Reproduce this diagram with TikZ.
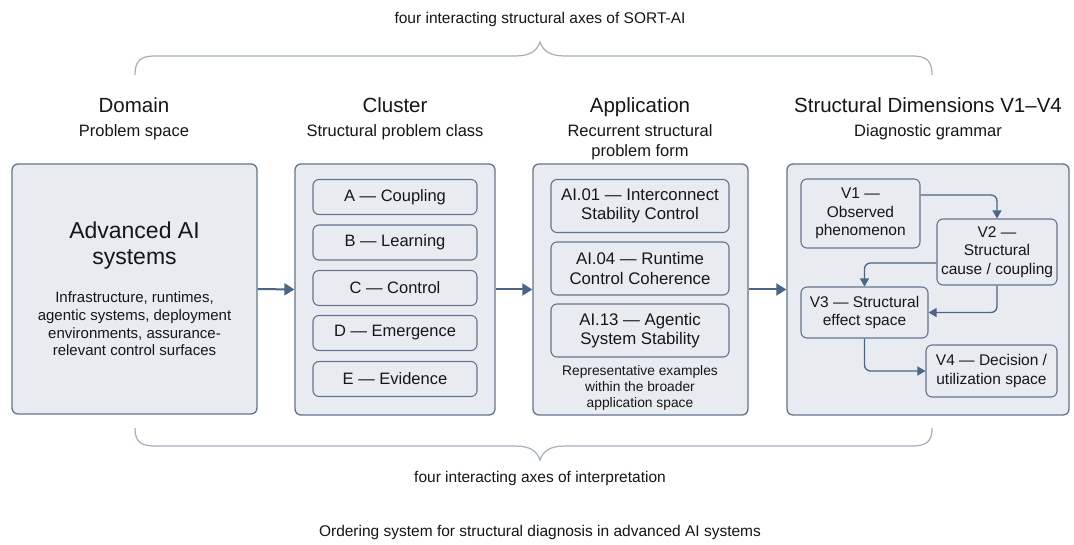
\documentclass[tikz,border=0pt]{standalone}
\usepackage{fontspec}
\setmainfont{Liberation Sans}
\usetikzlibrary{arrows.meta,calc}
\definecolor{boxfill}{HTML}{E8ECF1}
\definecolor{boxline}{HTML}{62758C}
\definecolor{arrcol}{HTML}{4B6584}
\definecolor{bracecol}{HTML}{A3AFBD}
\definecolor{txt}{HTML}{161616}
\tikzset{
  outer/.style={draw=boxline, fill=boxfill, line width=1.3pt, rounded corners=6pt, inner sep=0pt},
  inner/.style={draw=boxline, fill=boxfill, line width=1.1pt, rounded corners=6pt, inner sep=0pt, align=center, text=txt},
  head/.style={text=txt, font=\fontsize{20.5}{24}\selectfont, inner sep=0pt, anchor=base},
  sub/.style={text=txt, font=\fontsize{16.5}{20}\selectfont, inner sep=0pt, align=center, anchor=base},
  lbl/.style={text=txt, font=\fontsize{15.5}{18}\selectfont, inner sep=0pt, align=center, anchor=base},
  bigarr/.style={draw=arrcol, line width=2pt, -{Triangle[length=10pt,width=12pt]}},
  smallarr/.style={draw=arrcol, line width=1.3pt, rounded corners=6pt, -{Triangle[length=8pt,width=9pt]}},
  brace/.style={draw=bracecol, line width=1.2pt}
}
\begin{document}
\begin{tikzpicture}[x=1pt,y=-1pt]
\useasboundingbox (0,0) rectangle (1074,545);
\fill[white] (0,0) rectangle (1074,545);

% top and bottom labels
\node[lbl] (toplbl) at (540,24) {four interacting structural axes of SORT-AI};
\node[lbl] (botlbl) at (540,482) {four interacting axes of interpretation};
\node[lbl] (footer) at (540,536) {Ordering system for structural diagnosis in advanced AI systems};

% braces
\draw[brace] (135,75) .. controls (135,61) and (140,56) .. (155,56) -- (515,56)
  .. controls (530,56) and (537,51) .. (540,42)
  .. controls (543,51) and (550,56) .. (565,56) -- (912,56)
  .. controls (927,56) and (932,61) .. (932,75);
\draw[brace] (135,428) .. controls (135,441) and (140,446) .. (155,446) -- (515,446)
  .. controls (530,446) and (537,451) .. (540,460)
  .. controls (543,451) and (550,446) .. (565,446) -- (912,446)
  .. controls (927,446) and (932,441) .. (932,428);

% headings
\node[head] (hD) at (134,112.5) {Domain};
\node[sub]  (sD) at (134,137) {Problem space};
\node[head] (hC) at (395,112.5) {Cluster};
\node[sub]  (sC) at (395,137) {Structural problem class};
\node[head] (hA) at (640,112.5) {Application};
\node[sub]  (sA) at (640,137) {Recurrent structural};
\node[sub]  (sA2) at (640,157) {problem form};
\node[head] (hS) at (928,112.5) {Structural Dimensions V1–V4};
\node[sub]  (sS) at (928,137) {Diagnostic grammar};

% outer boxes
\node[outer, minimum width=245pt, minimum height=250pt] (D) at (134.5,289) {};
\node[outer, minimum width=200pt, minimum height=251pt] (C) at (395,289.5) {};
\node[outer, minimum width=215pt, minimum height=251pt] (A) at (640.5,289.5) {};
\node[outer, minimum width=282pt, minimum height=251pt] (S) at (928,289.5) {};

% domain content
\node[text=txt, font=\fontsize{23}{26}\selectfont, align=center, inner sep=0pt] (dt) at (134.5,246) {Advanced AI\\systems};
\node[text=txt, font=\fontsize{15}{17.7}\selectfont, align=center, inner sep=0pt] (dd) at (134.5,324) {Infrastructure, runtimes,\\agentic systems, deployment\\environments, assurance-\\relevant control surfaces};

% cluster content
\tikzset{cl/.style={inner, minimum width=164pt, minimum height=35pt, font=\fontsize{16.5}{19}\selectfont}}
\node[cl] (cA) at (395,197) {A — Coupling};
\node[cl] (cB) at (395,242.5) {B — Learning};
\node[cl] (cC) at (395,288) {C — Control};
\node[cl] (cD) at (395,333) {D — Emergence};
\node[cl] (cE) at (395,379) {E — Evidence};

% application content
\tikzset{ap/.style={inner, minimum width=178pt, minimum height=53pt, font=\fontsize{16.8}{19.5}\selectfont}}
\node[ap] (a1) at (640,206) {AI.01 — Interconnect\\Stability Control};
\node[ap] (a4) at (640,268.5) {AI.04 — Runtime\\Control Coherence};
\node[ap] (a13) at (640,330.5) {AI.13 — Agentic\\System Stability};
\node[text=txt, font=\fontsize{13.8}{16}\selectfont, align=center, inner sep=0pt] (rep) at (640,388) {Representative examples\\within the broader\\application space};

% structural dimensions content
\tikzset{vd/.style={inner, font=\fontsize{15.5}{18.5}\selectfont}}
\node[vd, minimum width=119pt, minimum height=69pt] (V1) at (860.5,213.5) {V1 —\\Observed\\phenomenon};
\node[vd, minimum width=120pt, minimum height=66pt] (V2) at (997,252) {V2 —\\Structural\\cause / coupling};
\node[vd, minimum width=127pt, minimum height=51pt] (V3) at (864.5,312.5) {V3 — Structural\\effect space};
\node[vd, minimum width=131pt, minimum height=52pt] (V4) at (991.5,371) {V4 — Decision /\\utilization space};

\draw[smallarr] ([yshift=18.5pt]V1.east) -| (V2.north);
\draw[smallarr] ([yshift=-11pt]V2.west) -| (V3.north);
\draw[smallarr] (V2.south) |- (V3.east);
\draw[smallarr] (V3.south) |- (V4.west);

% main arrows
\draw[bigarr] (D.east) -- (C.west);
\draw[bigarr] (C.east) -- (A.west);
\draw[bigarr] (A.east) -- (S.west);
\end{tikzpicture}
\end{document}
